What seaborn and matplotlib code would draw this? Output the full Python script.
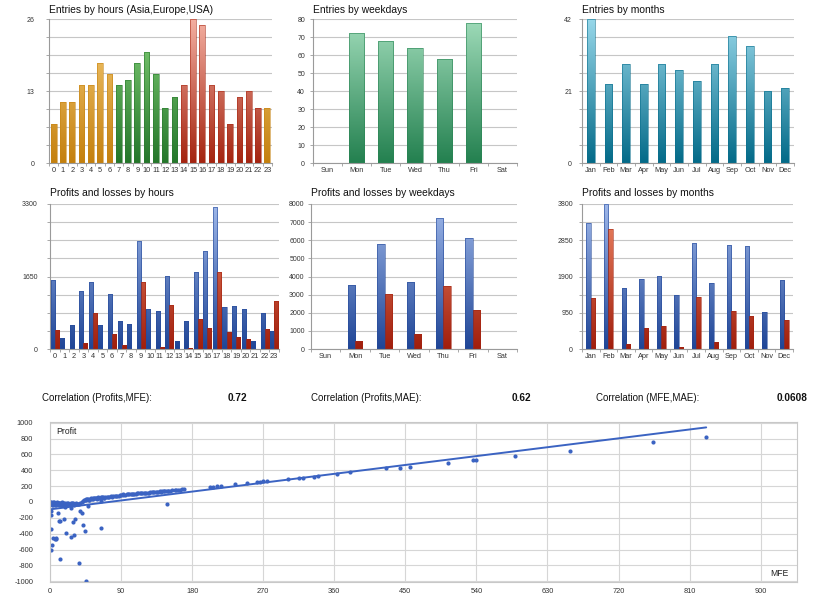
import numpy as np
import pandas as pd
import matplotlib
matplotlib.use("Agg")
import matplotlib.pyplot as plt
from matplotlib.colors import LinearSegmentedColormap
import seaborn as sns

# ---- values ----
hours = [str(h) for h in range(24)]
hour_entries = [7, 11, 11, 14, 14, 18, 16, 14, 15, 18, 20, 16,
                10, 12, 14, 26, 25, 14, 13, 7, 12, 13, 10, 10]
hour_session = ['Asia'] * 7 + ['Europe'] * 7 + ['USA'] * 9 + ['Asia']

weekdays = ['Sun', 'Mon', 'Tue', 'Wed', 'Thu', 'Fri', 'Sat']
weekday_entries = [0, 72, 68, 64, 58, 78, 0]

months = ['Jan', 'Feb', 'Mar', 'Apr', 'May', 'Jun',
          'Jul', 'Aug', 'Sep', 'Oct', 'Nov', 'Dec']
month_entries = [42, 23, 29, 23, 29, 27, 24, 29, 37, 34, 21, 22]

hour_profits = [1580, 245, 550, 1310, 1535, 550, 1255, 645, 565, 2465, 905, 860,
                1665, 190, 630, 1750, 2230, 3230, 945, 990, 905, 185, 815, 410]
hour_losses = [435, 0, 0, 130, 830, 0, 335, 100, 0, 1535, 0, 45,
               1010, 0, 15, 690, 485, 1755, 380, 280, 230, 0, 455, 1095]

weekday_profits = [0, 3550, 5800, 3700, 7250, 6150, 0]
weekday_losses = [0, 450, 3050, 850, 3450, 2130, 0]

month_profits = [3300, 3790, 1590, 1825, 1905, 1415, 2775, 1720, 2735, 2700, 960, 1815]
month_losses = [1330, 3145, 140, 560, 595, 50, 1355, 190, 985, 875, 0, 750]

corr_labels = ['Correlation (Profits,MFE):', 'Correlation (Profits,MAE):', 'Correlation (MFE,MAE):']
corr_values = ['0.72', '0.62', '0.0608']

# MFE / Profit per trade (scatter); dense cluster near zero first
mfe = [0, 1, 2, 3, 4, 5, 6, 7, 8, 10, 12, 14, 16, 18, 20, 22, 25, 28, 30, 33, 36, 40,
       0, 0, 1, 1, 2, 2, 3, 3, 4, 4, 5, 5, 6, 6, 7, 7, 8, 9, 9, 10, 11, 11, 12, 13,
       14, 15, 15, 17, 17, 19, 21, 23, 24, 26, 27, 29, 31, 34, 38,
       42, 45, 48, 50, 52, 54, 56, 58, 60, 62, 65, 65, 68, 70, 75, 80, 85, 90,
       43, 44, 46, 47, 49, 51, 53, 55, 57, 59, 61, 63, 64, 66, 67, 69, 72, 74, 77, 79,
       82, 84, 87, 89, 92, 95, 97, 99, 102, 104, 107, 109, 112, 114, 117, 119, 122, 124,
       127, 129, 132, 134, 137, 139, 142, 144, 147, 149, 152, 155, 158, 160, 164, 170,
       93, 100, 105, 110, 115, 120, 125, 130, 135, 140, 145, 150, 162, 167,
       203, 207, 212, 216, 234, 249, 262, 266, 270, 275, 302, 315, 321, 334, 340,
       363, 380, 426, 443, 456, 504, 536, 540, 589, 659, 764, 831,
       148,
       1, 1, 1, 1, 3, 4, 6, 7, 8, 10, 11, 13, 13, 18, 19, 20, 26, 27, 29, 30,
       32, 37, 37, 38, 40, 42, 44, 46, 48, 64]
profit = [-5, -20, -10, -30, -5, -15, -25, -8, -35, -12, -20, -30, -10, -22, -38, -15, -28, -18, -32, -8, -20, -5,
          -12, -25, -3, -30, -18, -40, -12, -22, -28, -35, -5, -30, -12, -40, -20, -28, -15, -5, -25, -30, -18, -8, -35, -12,
          -22, -5, -38, -18, -28, -10, -25, -8, -30, -15, -35, -10, -22, -30, -12,
          15, 25, 35, 30, 45, 40, 50, 45, 55, 50, 60, 15, 55, 65, 60, 75, 70, 85,
          20, 28, 32, 38, 30, 42, 38, 48, 52, 40, 58, 52, 45, 58, 62, 55, 66, 62, 72, 68,
          74, 80, 78, 88, 90, 92, 98, 95, 102, 98, 106, 104, 110, 108, 114, 112, 118, 116,
          122, 120, 126, 130, 132, 135, 138, 135, 142, 140, 145, 148, 150, 152, 156, 160,
          97, 100, 105, 108, 112, 115, 118, 122, 128, 132, 136, 140, 152, 158,
          192, 195, 198, 202, 228, 240, 255, 258, 262, 266, 290, 300, 305, 320, 325,
          355, 373, 423, 435, 448, 494, 526, 530, 583, 650, 756, 823,
          -20,
          -115, -160, -340, -610, -540, -455, -470, -450, -465, -140, -245, -240, -715, -210, -60, -390, -70, -440, -250, -420,
          -215, -765, -30, -110, -140, -295, -360, -1000, -50, -330]

# ---- style ----
sns.set_theme(style='white')
plt.rcParams['font.family'] = ['Liberation Sans', 'DejaVu Sans']
plt.rcParams['axes.unicode_minus'] = False

W, H = 820, 600
fig = plt.figure(figsize=(W / 100, H / 100), dpi=100, facecolor='white')

GRID = '#c6c6c6'
SPINE = '#9a9a9a'
TICKC = '#333333'


def axes_px(x0, y0, x1, y1):
    return fig.add_axes([x0 / W, 1 - y1 / H, (x1 - x0) / W, (y1 - y0) / H])


def cmap2(dark, light):
    return LinearSegmentedColormap.from_list('g', [dark, light])


def gradient_bars(ax, patches, cmap, top):
    grad = np.linspace(0, 1, 256).reshape(-1, 1)
    for p in patches:
        h = p.get_height()
        if h <= 0:
            p.set_visible(False)
            continue
        x0, w = p.get_x(), p.get_width()
        im = ax.imshow(grad, extent=(x0, x0 + w, 0, top), origin='lower',
                       aspect='auto', cmap=cmap, zorder=2)
        im.set_clip_path(p)
        p.set_facecolor('none')
        p.set_edgecolor(cmap(0.05))
        p.set_linewidth(0.4)
        p.set_zorder(3)


def style_bar_axes(ax, n, ymax, labeled, ypad, title, title_pad):
    ax.set_xlim(-0.5, n - 0.5)
    ax.set_ylim(0, ymax)
    ticks = np.linspace(0, ymax, 9)
    ax.set_yticks(ticks)
    ax.set_yticklabels([f'{t:g}' if any(abs(t - v) < 1e-6 for v in labeled) else '' for t in ticks])
    ax.set_xticks(np.arange(-0.5, n), minor=True)
    ax.yaxis.grid(True, color=GRID, lw=0.8)
    ax.xaxis.grid(False)
    ax.set_axisbelow(True)
    for s in ['top', 'right']:
        ax.spines[s].set_visible(False)
    for s in ['left', 'bottom']:
        ax.spines[s].set_color(SPINE)
        ax.spines[s].set_linewidth(0.8)
    ax.tick_params(axis='y', which='major', length=2.2, width=0.6, color=SPINE,
                   labelsize=5, labelcolor=TICKC, pad=ypad, left=True)
    ax.tick_params(axis='x', which='major', length=0, labelsize=5.3, labelcolor=TICKC, pad=3)
    ax.tick_params(axis='x', which='minor', length=2.2, width=0.6, color=SPINE, bottom=True)
    ax.set_xlabel('')
    ax.set_ylabel('')
    ax.set_title(title, loc='left', fontsize=7.4, color='#111111', pad=title_pad)


# ---- row 1: entries ----
session_cmaps = {
    'Asia': cmap2('#c4800e', '#f7cd78'),
    'Europe': cmap2('#24762a', '#86d27a'),
    'USA': cmap2('#a4230f', '#f4b0a2'),
}
ax = axes_px(49, 19, 272, 163)
order = ['Asia', 'Europe', 'USA']
sns.barplot(x=hours, y=hour_entries, hue=hour_session, hue_order=order, dodge=False,
            width=0.62, errorbar=None, legend=False, ax=ax)
for cont, key in zip(ax.containers, order):
    gradient_bars(ax, cont.patches, session_cmaps[key], 26)
style_bar_axes(ax, 24, 26, [0, 13, 26], 8, 'Entries by hours (Asia,Europe,USA)', 4)

ax = axes_px(313, 19, 517, 163)
sns.barplot(x=weekdays, y=weekday_entries, width=0.52, errorbar=None, ax=ax)
gradient_bars(ax, ax.patches, cmap2('#23804f', '#a0dcba'), 80)
style_bar_axes(ax, 7, 80, list(range(0, 81, 10)), 3.5, 'Entries by weekdays', 4)

ax = axes_px(582, 19, 794, 163)
sns.barplot(x=months, y=month_entries, width=0.45, errorbar=None, ax=ax)
gradient_bars(ax, ax.patches, cmap2('#036a88', '#98d8ea'), 42)
style_bar_axes(ax, 12, 42, [0, 21, 42], 5, 'Entries by months', 4)

# ---- row 2: profits and losses ----
blue_cm = cmap2('#1f4596', '#9fb8ea')
red_cm = cmap2('#a01e0c', '#f08a68')


def pl_frame(cats, prof, loss):
    return pd.DataFrame({
        'cat': cats + cats,
        'value': prof + loss,
        'kind': ['Profit'] * len(cats) + ['Loss'] * len(cats),
    })


ax = axes_px(50, 204, 279, 349)
sns.barplot(data=pl_frame(hours, hour_profits, hour_losses), x='cat', y='value', hue='kind',
            hue_order=['Profit', 'Loss'], width=0.85, errorbar=None, legend=False, ax=ax)
for cont, cm in zip(ax.containers, [blue_cm, red_cm]):
    gradient_bars(ax, cont.patches, cm, 3300)
style_bar_axes(ax, 24, 3300, [0, 1650, 3300], 6.5, 'Profits and losses by hours', 6)

ax = axes_px(311, 204, 517, 349)
sns.barplot(data=pl_frame(weekdays, weekday_profits, weekday_losses), x='cat', y='value', hue='kind',
            hue_order=['Profit', 'Loss'], width=0.5, errorbar=None, legend=False, ax=ax)
for cont, cm in zip(ax.containers, [blue_cm, red_cm]):
    gradient_bars(ax, cont.patches, cm, 8000)
style_bar_axes(ax, 7, 8000, list(range(0, 8001, 1000)), 2.3, 'Profits and losses by weekdays', 6)

ax = axes_px(582, 204, 793, 349)
sns.barplot(data=pl_frame(months, month_profits, month_losses), x='cat', y='value', hue='kind',
            hue_order=['Profit', 'Loss'], width=0.5, errorbar=None, legend=False, ax=ax)
for cont, cm in zip(ax.containers, [blue_cm, red_cm]):
    gradient_bars(ax, cont.patches, cm, 3800)
style_bar_axes(ax, 12, 3800, [0, 950, 1900, 2850, 3800], 4.3, 'Profits and losses by months', 6)

# ---- correlation row ----
label_x = [42, 311, 596]
value_x = [247, 531, 808]
for lx, vx, lab, val in zip(label_x, value_x, corr_labels, corr_values):
    fig.text(lx / W, 1 - 398 / H, lab, fontsize=7, va='center', ha='left', color='#111111')
    fig.text(vx / W, 1 - 398 / H, val, fontsize=7.2, va='center', ha='right',
             fontweight='bold', color='#111111')

# ---- scatter MFE vs Profit ----
ax = axes_px(50, 422, 797, 582)
dot = '#3b63c2'
sns.regplot(x=np.array(mfe, dtype=float), y=np.array(profit, dtype=float), ci=None, truncate=True,
            ax=ax, scatter_kws=dict(s=9, color=dot, linewidths=0, alpha=1),
            line_kws=dict(color=dot, lw=1.4))
ax.set_xlim(0, 946)
ax.set_ylim(-1010, 1010)
ax.set_xticks(range(0, 901, 90))
ax.set_yticks(range(-1000, 1001, 200))
ax.grid(True, color='#d6d6d6', lw=0.8)
ax.set_axisbelow(True)
for s in ax.spines.values():
    s.set_color('#c8c8c8')
    s.set_linewidth(0.8)
ax.tick_params(axis='both', length=0, labelsize=5.3, labelcolor=TICKC)
ax.tick_params(axis='y', pad=12)
ax.tick_params(axis='x', pad=4)
ax.set_xlabel('')
ax.set_ylabel('')
ax.text(0.008, 0.94, 'Profit', transform=ax.transAxes, fontsize=6.2, ha='left', va='center', color='#222222')
ax.text(0.989, 0.056, 'MFE', transform=ax.transAxes, fontsize=6.2, ha='right', va='center', color='#222222')

fig.savefig('out.png', dpi=100, facecolor='white')
